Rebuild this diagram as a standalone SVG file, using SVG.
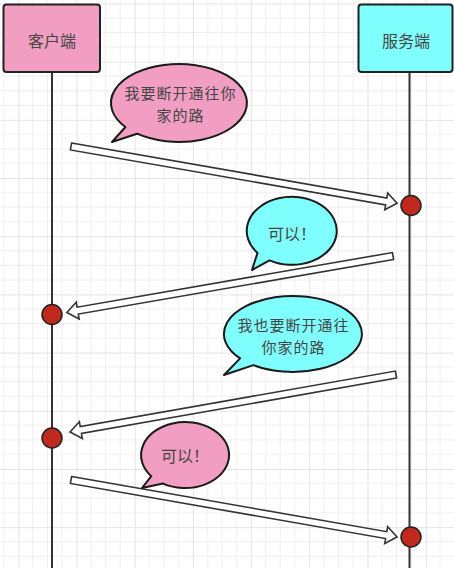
<svg xmlns="http://www.w3.org/2000/svg" width="454" height="568" viewBox="0 0 454 568">
<style>
  .box{stroke:#222;stroke-width:2}
  .pink{fill:#F19EC2}
  .cyan{fill:#80FFFF}
  .life{stroke:#333;stroke-width:2;fill:none}
  .dot{fill:#C0291D;stroke:#222;stroke-width:1.5}
  .arr{fill:#fff;stroke:#333;stroke-width:1.6;stroke-linejoin:miter}
  .bub{stroke:#1a1a1a;stroke-width:2;stroke-linejoin:round}
  .t{font-family:"Noto Sans CJK SC","Noto Sans",sans-serif;font-size:16px;fill:#454545;text-anchor:middle;dominant-baseline:central}
  .m{font-size:15px;letter-spacing:1px}
</style>
<defs>
  <pattern id="grid" patternUnits="userSpaceOnUse" x="18.3" y="3.4" width="58.2" height="58.2">
    <path d="M14.55 0V58.2M29.1 0V58.2M43.65 0V58.2M0 14.55H58.2M0 29.1H58.2M0 43.65H58.2" stroke="#eeeeee" stroke-width="1" fill="none"/>
    <path d="M0.5 0V58.2M0 0.5H58.2" stroke="#e4e4e4" stroke-width="1" fill="none"/>
  </pattern>
  <polygon id="arrowShape" points="0,-3.5 320,-3.5 320,-8.5 331,0 320,8.5 320,3.5 0,3.5"/>
</defs>
<rect width="454" height="568" fill="#fff"/>
<rect width="454" height="568" fill="url(#grid)"/>

<g id="lifelines">
  <line class="life" x1="52" y1="72" x2="52" y2="568"/>
  <line class="life" x1="409.5" y1="72" x2="409.5" y2="568"/>
</g>

<g id="client">
  <rect class="box pink" x="3.5" y="4.5" width="96.5" height="67.5" rx="3"/>
  <text class="t" x="52" y="40">客户端</text>
</g>
<g id="server">
  <rect class="box cyan" x="358.5" y="4.5" width="94" height="67.5" rx="3"/>
  <text class="t" x="406" y="40">服务端</text>
</g>

<g id="connectors">
  <g transform="translate(71,146.5) rotate(9.88)"><use href="#arrowShape" class="arr"/></g>
  <g transform="translate(393,256) rotate(170.17)"><use href="#arrowShape" class="arr"/></g>
  <g transform="translate(396,374.5) rotate(170.0)"><use href="#arrowShape" class="arr"/></g>
  <g transform="translate(71,480) rotate(9.92)"><use href="#arrowShape" class="arr"/></g>
</g>

<g id="dots">
  <circle class="dot" cx="411" cy="205.5" r="10"/>
  <circle class="dot" cx="52" cy="314.5" r="10"/>
  <circle class="dot" cx="52" cy="438" r="10"/>
  <circle class="dot" cx="411" cy="537" r="10"/>
</g>

<g id="bubble1">
  <path class="bub pink" d="M125.4 127 L112 142 L137.1 133.7 A68 39 0 1 0 125.4 127 Z"/>
  <text class="t m" x="180.5" y="92">我要断开通往你</text>
  <text class="t m" x="180.5" y="114">家的路</text>
</g>
<g id="bubble2">
  <path class="bub cyan" d="M257.5 252.9 L252 270 L269.5 260.4 A45 34 0 1 0 257.5 252.9 Z"/>
  <text class="t" x="292" y="233">可以！</text>
</g>
<g id="bubble3">
  <path class="bub cyan" d="M240.1 358.4 L224 375 L253.4 365.1 A69 38 0 1 0 240.1 358.4 Z"/>
  <text class="t m" x="293.5" y="324">我也要断开通往</text>
  <text class="t m" x="293.5" y="346">你家的路</text>
</g>
<g id="bubble4">
  <path class="bub pink" d="M151.3 476.2 L142 488 L163 483.6 A44 33 0 1 0 151.3 476.2 Z"/>
  <text class="t" x="185" y="455">可以！</text>
</g>
</svg>
